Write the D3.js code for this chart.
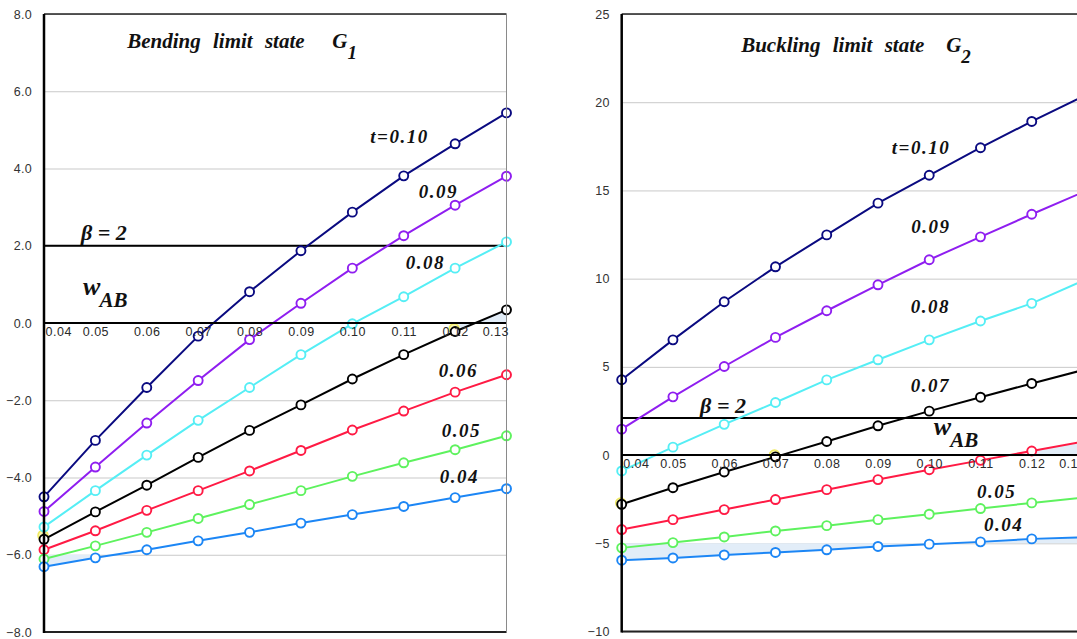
<!DOCTYPE html>
<html>
<head>
<meta charset="utf-8">
<script src="https://cdn.jsdelivr.net/npm/d3@7"></script>
<style>
  body { margin: 0; background: #ffffff; }
</style>
</head>
<body>
<div id="dibujo"></div>
<script>
// Valores de w en el eje x y sus etiquetas
const valoresW = [0.04, 0.05, 0.06, 0.07, 0.08, 0.09, 0.10, 0.11, 0.12, 0.13];
const etiquetasW = ["0.04", "0.05", "0.06", "0.07", "0.08", "0.09", "0.10", "0.11", "0.12", "0.13"];

// Espesores t (una curva por cada uno) y colores
const espesores = ["0.10", "0.09", "0.08", "0.07", "0.06", "0.05", "0.04"];
const colores = ["#0a0a80", "#8f1ef0", "#55eef5", "#000000", "#ff1a44", "#5ef25e", "#1c86f5"];

// G1: estado límite de flexión
const g1_t010 = [-4.50, -3.04, -1.67, -0.34, 0.81, 1.87, 2.87, 3.81, 4.64, 5.44];
const g1_t009 = [-4.88, -3.73, -2.59, -1.49, -0.43, 0.51, 1.42, 2.26, 3.05, 3.80];
const g1_t008 = [-5.28, -4.34, -3.42, -2.52, -1.67, -0.82, -0.02, 0.68, 1.42, 2.10];
const g1_t007 = [-5.60, -4.89, -4.20, -3.48, -2.78, -2.12, -1.45, -0.82, -0.22, 0.34];
const g1_t006 = [-5.87, -5.38, -4.85, -4.34, -3.83, -3.30, -2.77, -2.28, -1.79, -1.34];
const g1_t005 = [-6.11, -5.77, -5.42, -5.06, -4.70, -4.34, -3.97, -3.62, -3.28, -2.92];
const g1_t004 = [-6.31, -6.08, -5.87, -5.64, -5.42, -5.18, -4.96, -4.75, -4.52, -4.29];

// G2: estado límite de pandeo
const g2_t010 = [4.27, 6.53, 8.69, 10.67, 12.48, 14.28, 15.86, 17.42, 18.91, 20.33];
const g2_t009 = [1.47, 3.30, 5.02, 6.67, 8.18, 9.65, 11.07, 12.37, 13.65, 14.90];
const g2_t008 = [-0.90, 0.45, 1.74, 2.98, 4.26, 5.40, 6.53, 7.60, 8.60, 9.88];
const g2_t007 = [-2.79, -1.85, -0.96, -0.10, 0.77, 1.66, 2.49, 3.28, 4.06, 4.82];
const g2_t006 = [-4.22, -3.66, -3.09, -2.52, -1.96, -1.39, -0.83, -0.30, 0.23, 0.76];
const g2_t005 = [-5.26, -4.96, -4.64, -4.30, -4.00, -3.66, -3.35, -3.03, -2.71, -2.42];
const g2_t004 = [-5.96, -5.83, -5.66, -5.52, -5.37, -5.18, -5.05, -4.92, -4.75, -4.66];

// Marcas del eje y
const ticksG1 = [-8, -6, -4, -2, 0, 2, 4, 6, 8];
const ticksG2 = [-10, -5, 0, 5, 10, 15, 20, 25];

// Nivel beta de cada gráfico
const betaG1 = 2.0;
const betaG2 = 2.1;

// Rellenos azul claro: serie, valor de referencia, tramo de índices
const rellenosG1 = [{ serie: 6, ref: -6, desde: 0, hasta: 1 }, { serie: 3, ref: 0, desde: 8, hasta: 9 }];
const rellenosG2 = [{ serie: 6, ref: -5, desde: 0, hasta: 9 }, { serie: 4, ref: 0, desde: 8, hasta: 9 }];

// Marcadores amarillos sueltos (w, valor)
const amarillosG1 = [[0.04, -5.5], [0.12, -0.15]];
const amarillosG2 = [[0.04, -2.72], [0.07, 0.0]];

// Textos sobre las curvas (w, valor)
const textosG1 = [
  { texto: "t=0.10", w: 0.1035, v: 4.66 },
  { texto: "0.09", w: 0.1129, v: 3.24 },
  { texto: "0.08", w: 0.1104, v: 1.40 },
  { texto: "0.06", w: 0.1168, v: -1.40 },
  { texto: "0.05", w: 0.1174, v: -2.95 },
  { texto: "0.04", w: 0.1170, v: -4.14 }
];
const textosG2 = [
  { texto: "t=0.10", w: 0.0927, v: 17.06 },
  { texto: "0.09", w: 0.0965, v: 12.58 },
  { texto: "0.08", w: 0.0964, v: 8.04 },
  { texto: "0.07", w: 0.0964, v: 3.56 },
  { texto: "0.05", w: 0.1093, v: -2.45 },
  { texto: "0.04", w: 0.1107, v: -4.33 }
];

const fuenteSerif = "'Liberation Serif', 'Times New Roman', serif";
const fuenteSans = "'Liberation Sans', Arial, sans-serif";

const svg = d3
  .select("#dibujo")
  .append("svg")
  .attr("width", 1077)
  .attr("height", 639);

// Función para dibujar un panel completo
function dibujarPanel(panel) {
  const x = d3.scaleLinear().domain([0.04, 0.13]).range(panel.rangoX);
  const y = d3.scaleLinear().domain(panel.dominioY).range(panel.rangoY);
  const ancho = panel.rangoX[1] - panel.rangoX[0];
  const g = svg.append("g");

  // Rejilla horizontal
  const rejilla = g.append("g")
    .attr("transform", `translate(${panel.rangoX[0]},0)`)
    .call(d3.axisLeft(y).tickValues(panel.ticks).tickSize(-ancho).tickFormat(""));
  rejilla.select(".domain").remove();
  rejilla.selectAll("line").attr("stroke", "#c9c9c9").attr("stroke-width", 1);

  // Rellenos azul claro entre la curva y la referencia
  panel.rellenos.forEach((r) => {
    const serie = panel.series[r.serie];
    const tramo = d3.range(r.desde, r.hasta + 1);
    const area = d3.area()
      .x((i) => x(valoresW[i]))
      .y0(y(r.ref))
      .y1((i) => y(serie[i]));
    g.append("path")
      .datum(tramo)
      .attr("d", area)
      .attr("fill", "#e2edf8");
  });

  // Marcadores amarillos
  panel.amarillos.forEach((m) => {
    g.append("circle")
      .attr("cx", x(m[0]) - 1)
      .attr("cy", y(m[1]))
      .attr("r", 5)
      .attr("fill", "#fbf7b0")
      .attr("stroke", "#f0ea60")
      .attr("stroke-width", 1.5);
  });

  // Línea de referencia beta
  g.append("line")
    .attr("x1", panel.rangoX[0])
    .attr("x2", panel.rangoX[1])
    .attr("y1", y(panel.beta))
    .attr("y2", y(panel.beta))
    .attr("stroke", "#000")
    .attr("stroke-width", 2);

  // Curvas y marcadores
  const linea = d3.line()
    .x((d, i) => x(valoresW[i]))
    .y((d) => y(d));

  panel.series.forEach((serie, k) => {
    g.append("path")
      .datum(serie)
      .attr("d", linea)
      .attr("fill", "none")
      .attr("stroke", colores[k])
      .attr("stroke-width", 2);
  });

  panel.series.forEach((serie, k) => {
    serie.forEach((v, i) => {
      g.append("circle")
        .attr("cx", x(valoresW[i]))
        .attr("cy", y(v))
        .attr("r", 4.5)
        .attr("fill", "#fff")
        .attr("stroke", colores[k])
        .attr("stroke-width", 1.9);
    });
  });

  // Eje x en cero
  g.append("line")
    .attr("x1", panel.rangoX[0])
    .attr("x2", panel.rangoX[1])
    .attr("y1", y(0))
    .attr("y2", y(0))
    .attr("stroke", "#000")
    .attr("stroke-width", 2);

  // Bordes del área de trazado
  g.append("line")
    .attr("x1", panel.rangoX[0]).attr("x2", panel.rangoX[1])
    .attr("y1", panel.rangoY[1]).attr("y2", panel.rangoY[1])
    .attr("stroke", "#222").attr("stroke-width", 1.5);
  g.append("line")
    .attr("x1", panel.rangoX[0]).attr("x2", panel.rangoX[1])
    .attr("y1", panel.rangoY[0]).attr("y2", panel.rangoY[0])
    .attr("stroke", "#222").attr("stroke-width", 2);
  g.append("line")
    .attr("x1", panel.rangoX[1]).attr("x2", panel.rangoX[1])
    .attr("y1", panel.rangoY[0]).attr("y2", panel.rangoY[1])
    .attr("stroke", "#8a8a8a").attr("stroke-width", 1);
  g.append("line")
    .attr("x1", panel.rangoX[0]).attr("x2", panel.rangoX[0])
    .attr("y1", panel.rangoY[0] + 1).attr("y2", panel.rangoY[1])
    .attr("stroke", "#000").attr("stroke-width", 2.5);

  // Etiquetas del eje y
  const ejeY = g.append("g")
    .attr("transform", `translate(${panel.rangoX[0]},0)`)
    .call(d3.axisLeft(y).tickValues(panel.ticks).tickSize(0).tickPadding(12).tickFormat(panel.formato));
  ejeY.select(".domain").remove();
  ejeY.selectAll("text")
    .attr("font-family", fuenteSans)
    .attr("font-size", 12.5)
    .attr("letter-spacing", 0.3)
    .attr("fill", "#333");

  // Etiquetas del eje x, justo debajo de la línea de cero
  const ejeX = g.append("g")
    .attr("transform", `translate(0,${y(0)})`)
    .call(d3.axisBottom(x).tickValues(valoresW).tickSize(0).tickPadding(4)
      .tickFormat((d, i) => etiquetasW[i]));
  ejeX.select(".domain").remove();
  ejeX.selectAll("text")
    .attr("font-family", fuenteSans)
    .attr("font-size", 12.5)
    .attr("letter-spacing", 0.5)
    .attr("fill", "#2a2a2a");
  ejeX.selectAll("text").filter((d, i) => i === 0)
    .attr("text-anchor", "start").attr("dx", 1);
  ejeX.selectAll("text").filter((d, i, n) => i === n.length - 1)
    .attr("text-anchor", "end").attr("dx", 2);

  // Títulos y textos en negrita cursiva
  const titulo = g.append("text")
    .attr("x", x(panel.titulo.w))
    .attr("y", y(panel.titulo.v))
    .attr("font-family", fuenteSerif)
    .attr("font-weight", "bold")
    .attr("font-style", "italic")
    .attr("font-size", 21)
    .attr("word-spacing", 7)
    .attr("fill", "#111");
  titulo.append("tspan").text(panel.titulo.texto);
  titulo.append("tspan")
    .attr("x", x(panel.titulo.w) + 205)
    .text("G");
  titulo.append("tspan")
    .attr("dy", 11)
    .attr("font-size", 19)
    .text(panel.titulo.sub);

  panel.textos.forEach((t) => {
    g.append("text")
      .attr("x", x(t.w))
      .attr("y", y(t.v))
      .attr("font-family", fuenteSerif)
      .attr("font-weight", "bold")
      .attr("font-style", "italic")
      .attr("font-size", 19)
      .attr("letter-spacing", 1.5)
      .attr("fill", "#111")
      .text(t.texto);
  });

  g.append("text")
    .attr("x", x(panel.textoBeta.w))
    .attr("y", y(panel.textoBeta.v))
    .attr("font-family", fuenteSerif)
    .attr("font-weight", "bold")
    .attr("font-style", "italic")
    .attr("font-size", 22)
    .attr("fill", "#111")
    .text("β = 2");

  const w = g.append("text")
    .attr("x", x(panel.textoW.w))
    .attr("y", y(panel.textoW.v))
    .attr("font-family", fuenteSerif)
    .attr("font-weight", "bold")
    .attr("font-style", "italic")
    .attr("fill", "#111");
  w.append("tspan").attr("font-size", 26).text("w");
  w.append("tspan").attr("font-size", 21).attr("dy", 12).attr("dx", -1).text("AB");
}

dibujarPanel({
  rangoX: [44, 506.5],
  rangoY: [632, 14],
  dominioY: [-8, 8],
  ticks: ticksG1,
  formato: d3.format(".1f"),
  series: [g1_t010, g1_t009, g1_t008, g1_t007, g1_t006, g1_t005, g1_t004],
  beta: betaG1,
  rellenos: rellenosG1,
  amarillos: amarillosG1,
  textos: textosG1,
  titulo: { texto: "Bending limit state", sub: "1", w: 0.0562, v: 7.12 },
  textoBeta: { w: 0.0472, v: 2.15 },
  textoW: { w: 0.0476, v: 0.72 }
});

dibujarPanel({
  rangoX: [621.7, 1083],
  rangoY: [631.5, 14],
  dominioY: [-10, 25],
  ticks: ticksG2,
  formato: d3.format("d"),
  series: [g2_t010, g2_t009, g2_t008, g2_t007, g2_t006, g2_t005, g2_t004],
  beta: betaG2,
  rellenos: rellenosG2,
  amarillos: amarillosG2,
  textos: textosG2,
  titulo: { texto: "Buckling limit state", sub: "2", w: 0.0633, v: 22.84 },
  textoBeta: { w: 0.0553, v: 2.37 },
  textoW: { w: 0.1009, v: 1.12 }
});
</script>
</body>
</html>
